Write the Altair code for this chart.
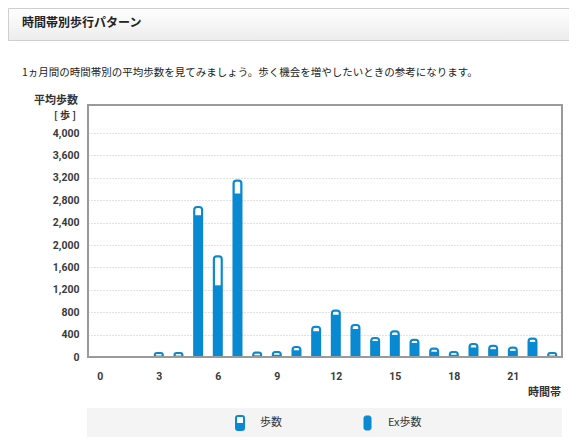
import altair as alt
import pandas as pd

# ---- data ----
hours = list(range(24))
steps = [0, 0, 0, 70, 70, 2680, 1800, 3150, 80, 90, 180, 540,
         830, 570, 340, 460, 310, 150, 90, 230, 200, 170, 330, 70]
ex_steps = [0, 0, 0, 25, 25, 2530, 1280, 2920, 30, 40, 120, 460,
            755, 500, 285, 395, 250, 95, 40, 170, 140, 110, 270, 25]
x_ticks = [0, 3, 6, 9, 12, 15, 18, 21]
y_ticks = [0, 400, 800, 1200, 1600, 2000, 2400, 2800, 3200, 3600, 4000]

title_text = "時間帯別歩行パターン"
desc_text = "1ヵ月間の時間帯別の平均歩数を見てみましょう。歩く機会を増やしたいときの参考になります。"
y_title1 = "平均歩数"
y_title2 = "[ 歩 ]"
x_title = "時間帯"
legend_labels = ["歩数", "Ex歩数"]

BLUE = "#0889d2"
JP = "Noto Sans CJK JP"
NUM = "Roboto"

df = pd.DataFrame({"hour": hours, "steps": steps, "ex": ex_steps})
one = pd.DataFrame({"k": [0]})

W, H = 474, 252

xscale = alt.Scale(domain=[-0.6, 23.5], nice=False, zero=False, padding=0)
yscale = alt.Scale(domain=[0, 4500], nice=False, padding=0)

xaxis = alt.Axis(values=x_ticks, title=None, grid=False, ticks=False,
                 tickSize=0, domain=False, labelPadding=14,
                 labelFont=NUM, labelFontSize=10.5, labelFontWeight="bold",
                 labelColor="#3a3a3a", labelFlush=False)
yaxis = alt.Axis(values=y_ticks, title=None, format=",d", grid=True,
                 gridDash=[1, 2], gridColor="#c4c4c4", ticks=False,
                 tickSize=0, domain=False, labelPadding=9,
                 labelFont=NUM, labelFontSize=10.5, labelFontWeight="bold",
                 labelColor="#3a3a3a")

# ---- decorations (header box, texts, legend, frame) ----
header = alt.Chart(one).mark_rect(
    color=alt.Gradient(gradient="linear",
                       stops=[alt.GradientStop(color="#ffffff", offset=0),
                              alt.GradientStop(color="#ececec", offset=1)],
                       x1=0, x2=0, y1=0, y2=1),
    stroke="#cfcfcf", strokeWidth=1
).encode(x=alt.value(-79.5), x2=alt.value(490), y=alt.value(-96.5), y2=alt.value(-64.5))

header_txt = alt.Chart(one).mark_text(
    text=title_text, align="left", baseline="middle", font=JP,
    fontSize=12, fontWeight="bold", color="#222"
).encode(x=alt.value(-66), y=alt.value(-82))

desc = alt.Chart(one).mark_text(
    text=desc_text, align="left", baseline="middle", font=JP,
    fontSize=10.5, color="#222"
).encode(x=alt.value(-66), y=alt.value(-32))

ytit1 = alt.Chart(one).mark_text(
    text=y_title1, align="right", baseline="middle", font=JP,
    fontSize=11, fontWeight="bold", color="#333"
).encode(x=alt.value(-10), y=alt.value(-4))

ytit2 = alt.Chart(one).mark_text(
    text=y_title2, align="right", baseline="middle", font=JP,
    fontSize=10, fontWeight="bold", color="#333"
).encode(x=alt.value(-12), y=alt.value(11))

xtit = alt.Chart(one).mark_text(
    text=x_title, align="right", baseline="middle", font=JP,
    fontSize=11, fontWeight="bold", color="#333"
).encode(x=alt.value(473), y=alt.value(288))

frame = alt.Chart(one).mark_rect(
    fill="transparent", stroke="#9a9a9a", strokeWidth=2
).encode(x=alt.value(0), x2=alt.value(W), y=alt.value(0), y2=alt.value(H))

legend_bg = alt.Chart(one).mark_rect(color="#f4f4f4").encode(
    x=alt.value(-1), x2=alt.value(474), y=alt.value(303), y2=alt.value(332))

icon1 = alt.Chart(one).mark_rect(
    fill="white", stroke=BLUE, strokeWidth=2, cornerRadius=2
).encode(x=alt.value(148), x2=alt.value(156), y=alt.value(311), y2=alt.value(325))
icon1b = alt.Chart(one).mark_rect(fill=BLUE).encode(
    x=alt.value(148), x2=alt.value(156), y=alt.value(318), y2=alt.value(325))
icon2 = alt.Chart(one).mark_rect(
    fill=BLUE, stroke=BLUE, strokeWidth=1, cornerRadius=2
).encode(x=alt.value(276), x2=alt.value(283), y=alt.value(311), y2=alt.value(325))

leg1 = alt.Chart(one).mark_text(
    text=legend_labels[0], align="left", baseline="middle", font=JP,
    fontSize=11, color="#333"
).encode(x=alt.value(172), y=alt.value(318))
leg2 = alt.Chart(one).mark_text(
    text=legend_labels[1], align="left", baseline="middle", font=JP,
    fontSize=11, color="#333"
).encode(x=alt.value(300), y=alt.value(318))

# ---- bars ----
base = alt.Chart(df).transform_filter("datum.steps > 0")

total_bars = base.mark_bar(
    size=8, fill="white", stroke=BLUE, strokeWidth=2, cornerRadiusEnd=3
).encode(
    x=alt.X("hour:Q", scale=xscale, axis=xaxis),
    y=alt.Y("steps:Q", scale=yscale, axis=yaxis),
)

ex_bars = base.mark_bar(size=8, color=BLUE).encode(
    x=alt.X("hour:Q", scale=xscale, axis=xaxis),
    y=alt.Y("ex:Q", scale=yscale, axis=yaxis),
)

chart = alt.layer(
    total_bars, ex_bars, frame,
    header, header_txt, desc, ytit1, ytit2, xtit,
    legend_bg, icon1, icon1b, icon2, leg1, leg2,
).properties(
    width=W, height=H,
    autosize=alt.AutoSizeParams(type="none"),
    padding={"left": 80, "top": 97, "right": 7, "bottom": 81},
).configure_view(
    strokeWidth=0
).configure(background="white")

chart.save("out.html", embed_options={"renderer": "svg", "actions": False})
